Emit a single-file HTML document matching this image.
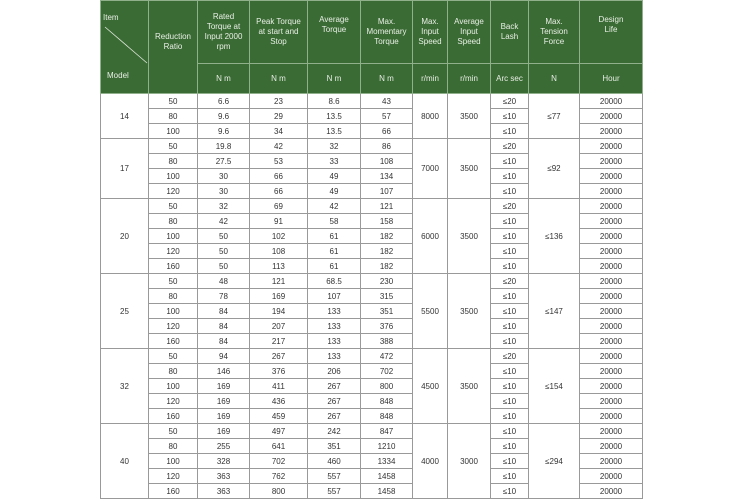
<!DOCTYPE html>
<html><head><meta charset="utf-8"><style>
html,body{margin:0;padding:0;background:#fff;width:750px;height:500px;overflow:hidden}
table{position:absolute;left:100px;top:0;border-collapse:collapse;table-layout:fixed;font-family:"Liberation Sans",sans-serif;font-size:8px;color:#333}
td{border:1px solid #999;text-align:center;padding:0;height:14px;line-height:9px;overflow:hidden}
th{background:#3b6b34;color:#e8efe6;font-weight:normal;border:1px solid #8fb08a;padding:0;line-height:10px;font-size:8px;vertical-align:middle}
tr.h1 th{height:62px}
tr.h2 th{height:29px}
</style></head><body>
<table>
<colgroup><col style="width:48px"><col style="width:49px"><col style="width:52px"><col style="width:58px"><col style="width:53px"><col style="width:52px"><col style="width:35px"><col style="width:43px"><col style="width:38px"><col style="width:51px"><col style="width:63px"></colgroup>
<tr class="h1"><th rowspan="2" style="position:relative;vertical-align:top">
<div style="position:absolute;left:2px;top:12px;color:#e8efe6">Item</div>
<svg style="position:absolute;left:0;top:24px" width="48" height="40"><line x1="4" y1="2" x2="46" y2="38" stroke="#dfe8dc" stroke-width="0.8"/></svg>
<div style="position:absolute;left:6px;top:70px">Model</div></th>
<th rowspan="2"><div style="margin-bottom:10px">Reduction<br>Ratio</div></th>
<th>Rated<br>Torque at<br>Input 2000<br>rpm</th><th>Peak Torque<br>at start and<br>Stop</th><th style="vertical-align:top"><div style="margin-top:14px">Average<br>Torque</div></th><th>Max.<br>Momentary<br>Torque</th><th>Max.<br>Input<br>Speed</th><th>Average<br>Input<br>Speed</th><th>Back<br>Lash</th><th>Max.<br>Tension<br>Force</th><th style="vertical-align:top"><div style="margin-top:14px">Design<br>Life</div></th></tr>
<tr class="h2"><th>N m</th><th>N m</th><th>N m</th><th>N m</th><th>r/min</th><th>r/min</th><th>Arc sec</th><th>N</th><th>Hour</th></tr>
<tr><td rowspan="3">14</td><td>50</td><td>6.6</td><td>23</td><td>8.6</td><td>43</td><td rowspan="3">8000</td><td rowspan="3">3500</td><td>≤20</td><td rowspan="3">≤77</td><td>20000</td></tr>
<tr><td>80</td><td>9.6</td><td>29</td><td>13.5</td><td>57</td><td>≤10</td><td>20000</td></tr>
<tr><td>100</td><td>9.6</td><td>34</td><td>13.5</td><td>66</td><td>≤10</td><td>20000</td></tr>
<tr><td rowspan="4">17</td><td>50</td><td>19.8</td><td>42</td><td>32</td><td>86</td><td rowspan="4">7000</td><td rowspan="4">3500</td><td>≤20</td><td rowspan="4">≤92</td><td>20000</td></tr>
<tr><td>80</td><td>27.5</td><td>53</td><td>33</td><td>108</td><td>≤10</td><td>20000</td></tr>
<tr><td>100</td><td>30</td><td>66</td><td>49</td><td>134</td><td>≤10</td><td>20000</td></tr>
<tr><td>120</td><td>30</td><td>66</td><td>49</td><td>107</td><td>≤10</td><td>20000</td></tr>
<tr><td rowspan="5">20</td><td>50</td><td>32</td><td>69</td><td>42</td><td>121</td><td rowspan="5">6000</td><td rowspan="5">3500</td><td>≤20</td><td rowspan="5">≤136</td><td>20000</td></tr>
<tr><td>80</td><td>42</td><td>91</td><td>58</td><td>158</td><td>≤10</td><td>20000</td></tr>
<tr><td>100</td><td>50</td><td>102</td><td>61</td><td>182</td><td>≤10</td><td>20000</td></tr>
<tr><td>120</td><td>50</td><td>108</td><td>61</td><td>182</td><td>≤10</td><td>20000</td></tr>
<tr><td>160</td><td>50</td><td>113</td><td>61</td><td>182</td><td>≤10</td><td>20000</td></tr>
<tr><td rowspan="5">25</td><td>50</td><td>48</td><td>121</td><td>68.5</td><td>230</td><td rowspan="5">5500</td><td rowspan="5">3500</td><td>≤20</td><td rowspan="5">≤147</td><td>20000</td></tr>
<tr><td>80</td><td>78</td><td>169</td><td>107</td><td>315</td><td>≤10</td><td>20000</td></tr>
<tr><td>100</td><td>84</td><td>194</td><td>133</td><td>351</td><td>≤10</td><td>20000</td></tr>
<tr><td>120</td><td>84</td><td>207</td><td>133</td><td>376</td><td>≤10</td><td>20000</td></tr>
<tr><td>160</td><td>84</td><td>217</td><td>133</td><td>388</td><td>≤10</td><td>20000</td></tr>
<tr><td rowspan="5">32</td><td>50</td><td>94</td><td>267</td><td>133</td><td>472</td><td rowspan="5">4500</td><td rowspan="5">3500</td><td>≤20</td><td rowspan="5">≤154</td><td>20000</td></tr>
<tr><td>80</td><td>146</td><td>376</td><td>206</td><td>702</td><td>≤10</td><td>20000</td></tr>
<tr><td>100</td><td>169</td><td>411</td><td>267</td><td>800</td><td>≤10</td><td>20000</td></tr>
<tr><td>120</td><td>169</td><td>436</td><td>267</td><td>848</td><td>≤10</td><td>20000</td></tr>
<tr><td>160</td><td>169</td><td>459</td><td>267</td><td>848</td><td>≤10</td><td>20000</td></tr>
<tr><td rowspan="5">40</td><td>50</td><td>169</td><td>497</td><td>242</td><td>847</td><td rowspan="5">4000</td><td rowspan="5">3000</td><td>≤10</td><td rowspan="5">≤294</td><td>20000</td></tr>
<tr><td>80</td><td>255</td><td>641</td><td>351</td><td>1210</td><td>≤10</td><td>20000</td></tr>
<tr><td>100</td><td>328</td><td>702</td><td>460</td><td>1334</td><td>≤10</td><td>20000</td></tr>
<tr><td>120</td><td>363</td><td>762</td><td>557</td><td>1458</td><td>≤10</td><td>20000</td></tr>
<tr><td>160</td><td>363</td><td>800</td><td>557</td><td>1458</td><td>≤10</td><td>20000</td></tr>
</table>
</body></html>
